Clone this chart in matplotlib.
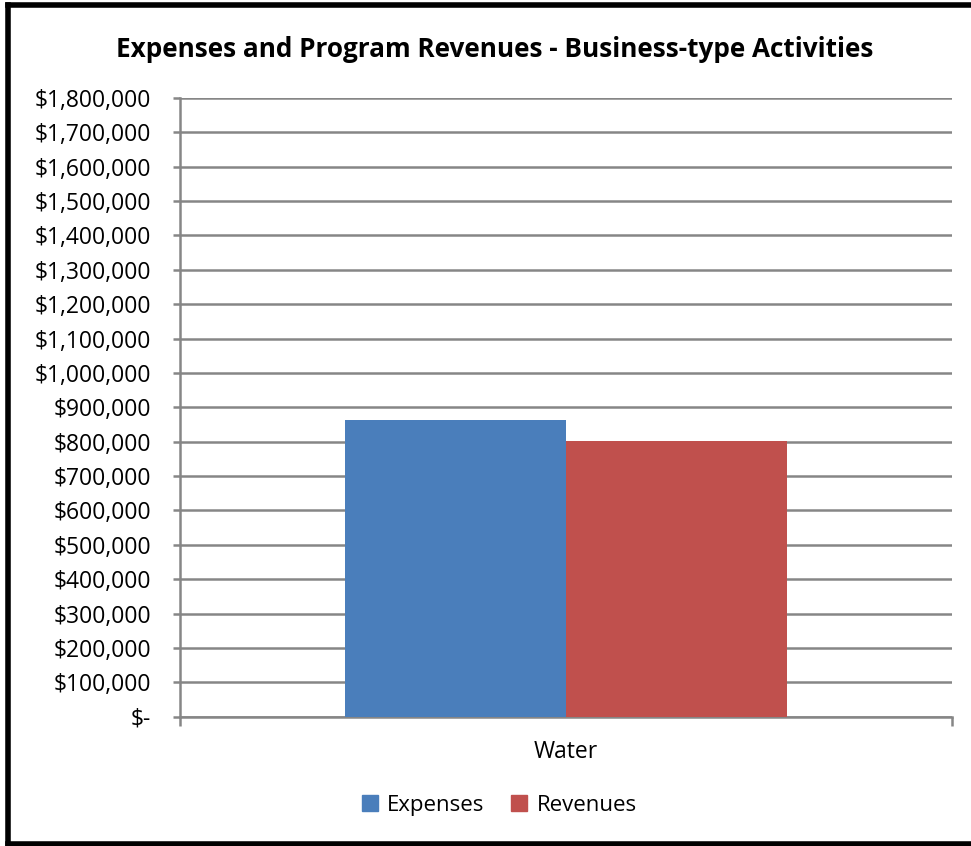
import matplotlib.pyplot as plt
from matplotlib.ticker import FuncFormatter
from matplotlib.lines import Line2D

# Données
categories = ['Water']
expenses = [862000]
revenues = [801000]
series_names = ['Expenses', 'Revenues']
colors = ['#4a7ebb', '#c0504d']

plt.rcParams['font.family'] = ['Open Sans', 'DejaVu Sans']

fig = plt.figure(figsize=(9.71, 8.46), dpi=100)
ax = fig.add_axes([0.1854, 0.1528, 0.795, 0.7314])

width = 0.286
x = list(range(len(categories)))
ax.bar([i - width / 2 for i in x], expenses, width=width, color=colors[0], zorder=3)
ax.bar([i + width / 2 for i in x], revenues, width=width, color=colors[1], zorder=3)

ax.set_xlim(-0.5, 0.5)
ax.set_ylim(0, 1800000)
ax.set_yticks(range(0, 1800001, 100000))


def money(v, pos):
    if v == 0:
        return '$-'
    return f'${v:,.0f}'


ax.yaxis.set_major_formatter(FuncFormatter(money))
ax.grid(axis='y', color='#868686', linewidth=1.8, zorder=0)
ax.tick_params(axis='y', length=5, width=1.8, color='#868686', labelsize=16.5, pad=16)

ax.set_xticks([-0.5, 0.5], minor=True)
ax.set_xticks(x)
ax.set_xticklabels(categories, fontsize=16.5)
ax.tick_params(axis='x', which='major', length=0, pad=17)
ax.tick_params(axis='x', which='minor', length=6.5, width=1.8, color='#868686')

for side in ['top', 'right']:
    ax.spines[side].set_visible(False)
ax.spines['left'].set_color('#868686')
ax.spines['left'].set_linewidth(1.8)
ax.spines['bottom'].set_color('#868686')
ax.spines['bottom'].set_linewidth(1.8)

fig.text(0.509, 0.942, 'Expenses and Program Revenues - Business-type Activities',
         ha='center', va='center', fontsize=18.8, fontweight='bold')

handles = [Line2D([], [], marker='s', linestyle='', markersize=11, color=c) for c in colors]
fig.legend(handles, series_names, loc='center', bbox_to_anchor=(0.512, 0.048), ncol=2,
           frameon=False, fontsize=16, handletextpad=0.25, columnspacing=1.0,
           handlelength=1.1)

# Cadre noir autour du graphique
fig.add_artist(Line2D([0.0078, 0.0078], [0.0, 0.9935], color='black', linewidth=4,
                      transform=fig.transFigure))
fig.add_artist(Line2D([0.0078, 1.0], [0.9935, 0.9935], color='black', linewidth=4,
                      transform=fig.transFigure))
fig.add_artist(Line2D([0.0078, 1.0], [0.0025, 0.0025], color='black', linewidth=4,
                      transform=fig.transFigure))

plt.savefig('out.png', dpi=100)
